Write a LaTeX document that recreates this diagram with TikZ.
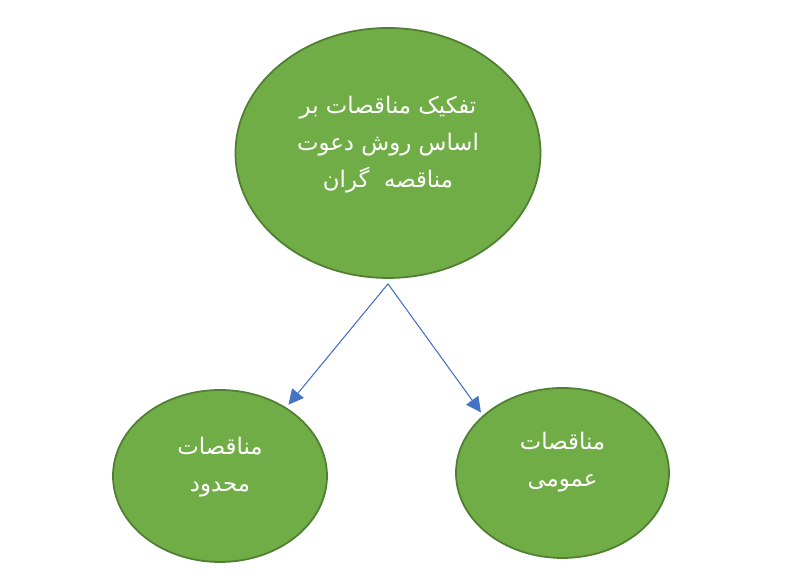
\documentclass[tikz,border=0pt]{standalone}
\usepackage{fontspec}
\newfontfamily\arabicfont[Script=Arabic]{DejaVu Sans}
\TeXXeTstate=1
\usetikzlibrary{shapes.geometric,arrows.meta}
\definecolor{tgreen}{HTML}{70AD47}
\definecolor{tborder}{HTML}{507E32}
\definecolor{tblue}{HTML}{4472C4}
\begin{document}
\begin{tikzpicture}[term/.style={ellipse,draw=tborder,fill=tgreen,line width=0.5pt,inner sep=0pt},
  txt/.style={text=white,align=center,font=\arabicfont\fontsize{6.5pt}{10.5pt}\selectfont},
  link/.style={->,>={Triangle[length=1.5mm,width=1.5mm]},draw=tblue,fill=tblue,line width=0.3pt}]
    \useasboundingbox (0,0) rectangle (8.07,5.81);
    \node (top) at (3.88,4.28) [term,minimum width=3.05cm,minimum height=2.5cm] {};
    \node (left) at (2.20,1.05) [term,minimum width=2.14cm,minimum height=1.72cm] {};
    \node (right) at (5.625,1.08) [term,minimum width=2.13cm,minimum height=1.70cm] {};
%
    \node (toptxt) at (3.88,4.36) [txt] {\beginR تفکیک مناقصات بر\endR\\ \beginR اساس روش دعوت\endR\\ \beginR مناقصه\ \ گران\endR};
    \node (lefttxt) at (2.20,1.14) [txt] {\beginR مناقصات\endR\\ \beginR محدود\endR};
    \node (righttxt) at (5.625,1.19) [txt] {\beginR مناقصات\endR\\ \beginR عمومی\endR};
%
    \coordinate (split) at ([yshift=-0.05cm]top.south);
    \draw [link,shorten >=1pt] (split) to (left.46);
    \draw [link,shorten >=1pt] (split) to (right.144);
  \end{tikzpicture}
\end{document}
